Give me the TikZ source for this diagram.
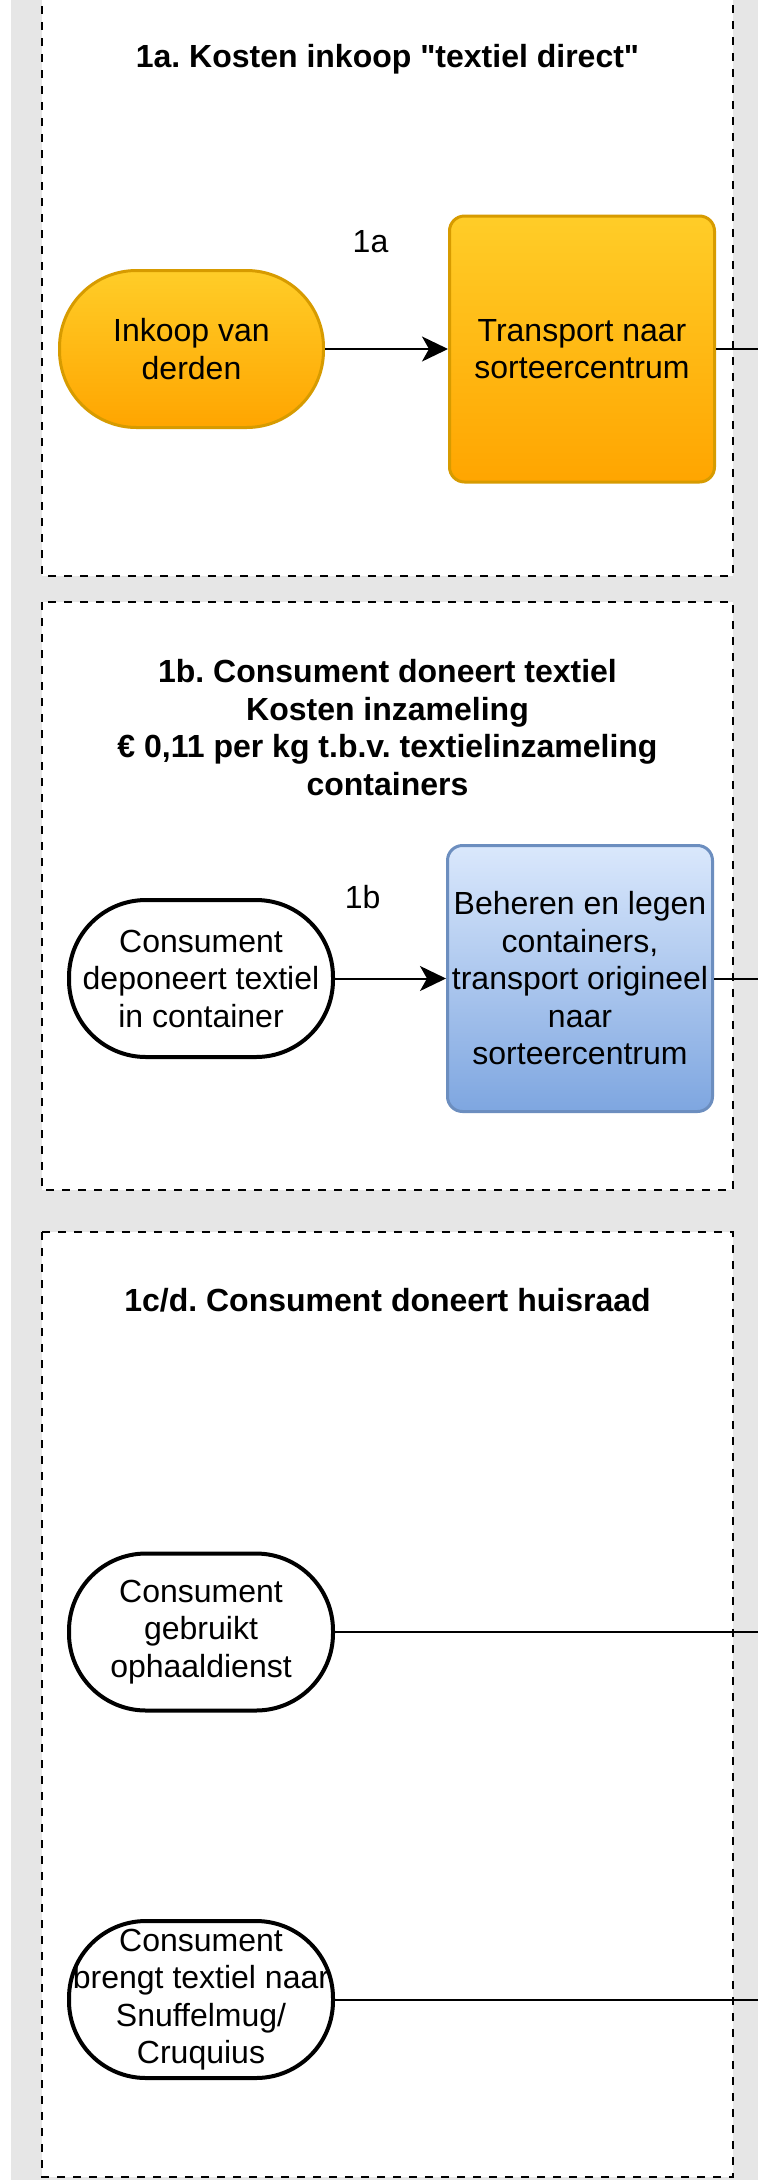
\documentclass[tikz,border=0pt]{standalone}
\usepackage{fontspec}
\setmainfont{Liberation Sans}[Ligatures=TeXOff]
\usetikzlibrary{arrows.meta,positioning}
\frenchspacing

\definecolor{poolgray}{HTML}{E6E6E6}
\definecolor{orangetop}{HTML}{FFCD28}
\definecolor{orangebot}{HTML}{FFA500}
\definecolor{orangeline}{HTML}{D79B00}
\definecolor{bluetop}{HTML}{DAE8FC}
\definecolor{bluebot}{HTML}{7EA6E0}
\definecolor{blueline}{HTML}{6C8EBF}

\begin{document}
\begin{tikzpicture}[x=1pt, y=-1pt, >={Stealth[length=26pt, width=25pt, inset=7pt]}, font=\fontsize{32}{37.5}\selectfont, lane/.style={draw, fill=white, line width=2pt, dash pattern=on 8pt off 8pt}, lanetitle/.style={font=\fontsize{32}{37.5}\selectfont\bfseries, align=center}, terminal/.style={rectangle, rounded corners=77pt, draw, fill=white, line width=4pt, minimum width=264pt, minimum height=157pt, inner sep=1pt, align=center}, block/.style={rectangle, rounded corners=15pt, draw, line width=3pt, minimum width=265pt, minimum height=266pt, inner sep=2pt, align=center}, flow/.style={line width=2pt}]

    \fill[white] (0,0) rectangle (758,2180);
    \useasboundingbox (0,0) rectangle (758,2180);
    \fill[poolgray] (11,0) rectangle (758,2180);

    \draw[lane] (42,-10) rectangle (733,576);
    \draw[lane] (42,602) rectangle (733,1190);
    \draw[lane] (42,1232) rectangle (733,2177);

    % 1a
    \node[lanetitle] (titleA) at (387.5,59) {1a. Kosten inkoop "textiel direct"};
    \node[terminal, draw=orangeline, line width=3pt, top color=orangetop, bottom color=orangebot] (inkoop) at (191.5,349) {Inkoop van\\derden};
    \node[block, draw=orangeline, top color=orangetop, bottom color=orangebot, right of=inkoop, node distance=390.5pt] (transA) {Transport naar\\sorteercentrum};
    \node[coordinate, right of=transA, node distance=176pt] (outA) {};

    \draw[flow, ->] (inkoop) -- node[pos=0.37, yshift=107pt] {1a} (transA);
    \draw[flow] (transA) -- (outA);

    % 1b
    \node[lanetitle] (titleB) at (387.5,727.5) {1b. Consument doneert textiel\\Kosten inzameling\\€ 0,11 per kg t.b.v. textielinzameling\\containers};
    \node[terminal] (deponeer) at (201,978.5) {Consument\\deponeert textiel\\in container};
    \node[block, draw=blueline, top color=bluetop, bottom color=bluebot, right of=deponeer, node distance=379pt] (legen) {Beheren en legen\\containers,\\transport origineel\\naar\\sorteercentrum};
    \node[coordinate, right of=legen, node distance=178pt] (outB) {};

    \draw[flow, ->] (deponeer) -- node[pos=0.25, yshift=81pt] {1b} (legen);
    \draw[flow] (legen) -- (outB);

    % 1c/d
    \node[lanetitle] (titleC) at (387.5,1300) {1c/d. Consument doneert huisraad};
    \node[terminal] (ophaal) at (201,1632) {Consument\\gebruikt\\ophaaldienst};
    \node[terminal, below of=ophaal, node distance=367.5pt] (brengt) {Consument\\brengt textiel naar\\Snuffelmug/\\Cruquius};
    \node[coordinate, right of=ophaal, node distance=557pt] (outC) {};
    \node[coordinate, right of=brengt, node distance=557pt] (outD) {};

    \draw[flow] (ophaal) -- (outC);
    \draw[flow] (brengt) -- (outD);
  \end{tikzpicture}
\end{document}
